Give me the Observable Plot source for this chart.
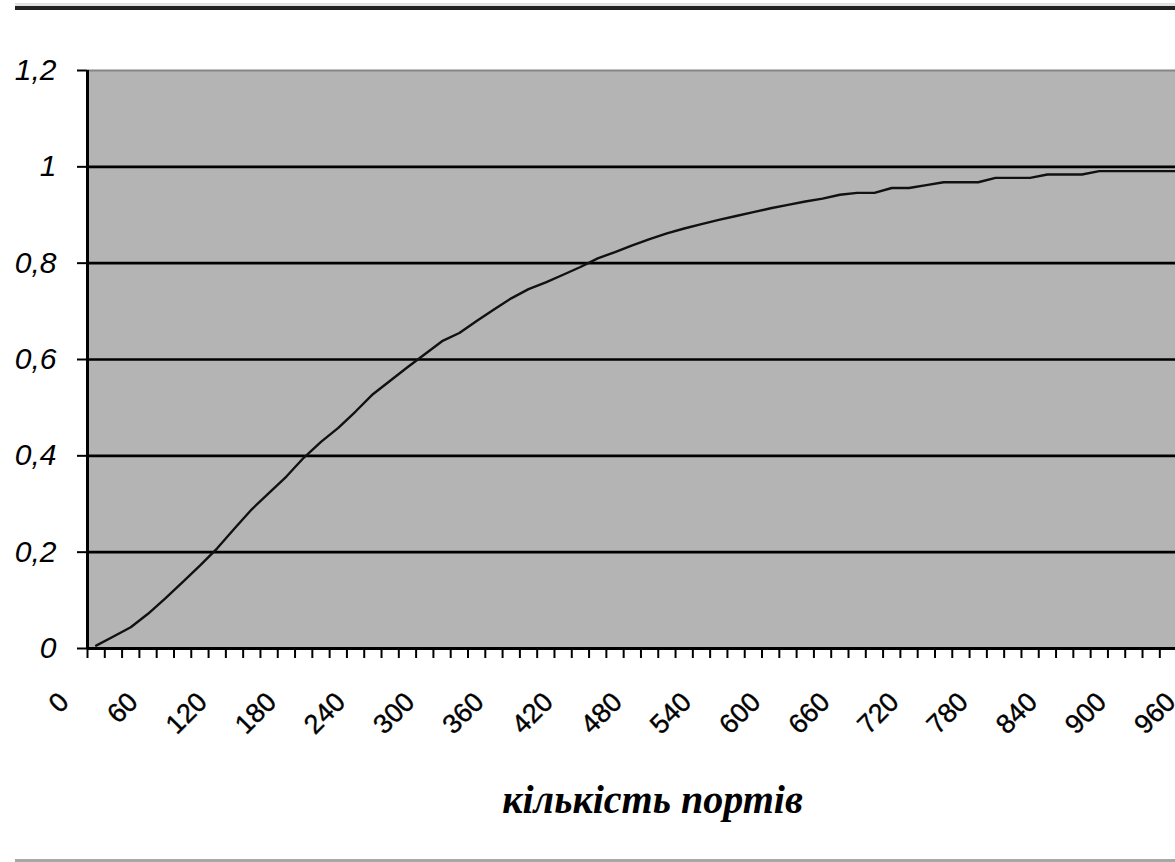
<!DOCTYPE html>
<html>
<head>
<meta charset="utf-8">
<script src="https://cdn.jsdelivr.net/npm/d3@7"></script>
<script src="https://cdn.jsdelivr.net/npm/@observablehq/plot@0.6"></script>
<style>
  html, body { margin: 0; padding: 0; background: #fff; overflow: hidden; }
  #wrap { position: relative; width: 1175px; height: 862px; overflow: hidden; }
  #wrap svg { display: block; overflow: hidden; }
  .deco { position: absolute; }
</style>
</head>
<body>
<div id="wrap">
  <div id="chart"></div>
  <div class="deco" style="left:0;top:0;width:15px;height:862px;background:#fff;"></div>
  <div class="deco" style="left:15px;top:3px;width:1160px;height:3px;background:#e2e2e2;"></div>
  <div class="deco" style="left:15px;top:6px;width:1160px;height:4px;background:#222;"></div>
  <div class="deco" style="left:15px;top:859px;width:1160px;height:3px;background:#a8a8a8;"></div>
</div>
<script>
// Categories: number of ports (one category every 15 ports)
const ports = [0, 15, 30, 45, 60, 75, 90, 105, 120, 135, 150, 165, 180, 195, 210, 225,
  240, 255, 270, 285, 300, 315, 330, 345, 360, 375, 390, 405, 420, 435, 450, 465,
  480, 495, 510, 525, 540, 555, 570, 585, 600, 615, 630, 645, 660, 675, 690, 705,
  720, 735, 750, 765, 780, 795, 810, 825, 840, 855, 870, 885, 900, 915, 930, 945];

// Series values
const values = [0.006, 0.025, 0.044, 0.072, 0.104, 0.138, 0.172, 0.208, 0.249, 0.289,
  0.323, 0.357, 0.396, 0.429, 0.458, 0.492, 0.528, 0.556, 0.584, 0.611,
  0.638, 0.655, 0.680, 0.704, 0.727, 0.746, 0.760, 0.776, 0.792, 0.810,
  0.823, 0.837, 0.850, 0.862, 0.872, 0.881, 0.890, 0.898, 0.906, 0.914,
  0.921, 0.928, 0.934, 0.942, 0.946, 0.946, 0.956, 0.956, 0.962, 0.968,
  0.968, 0.968, 0.977, 0.977, 0.977, 0.984, 0.984, 0.984, 0.991, 0.991,
  0.991, 0.991, 0.991, 0.991];

// Tick labels
const xLabels = [0, 60, 120, 180, 240, 300, 360, 420, 480, 540, 600, 660, 720, 780, 840, 900, 960];
const yTicks = [0, 0.2, 0.4, 0.6, 0.8, 1, 1.2];
const gridVals = [0.2, 0.4, 0.6, 0.8, 1];
const xTitle = "кількість портів";

const step = ports[1] - ports[0];
const bounds = ports.map(p => p - step / 2);
const table = ports.map((p, i) => ({ports: p, value: values[i]}));

const chart = Plot.plot({
  width: 1175,
  height: 862,
  marginLeft: 87,
  marginRight: 0,
  marginTop: 70,
  marginBottom: 214,
  style: {background: "transparent", fontFamily: "'Liberation Sans', Arial, sans-serif", overflow: "hidden"},
  x: {type: "linear", domain: [bounds[0], 936.1], axis: null, label: null},
  y: {domain: [0, 1.2], axis: null, label: null},
  marks: [
    Plot.frame({fill: "#b4b4b4", stroke: "none"}),
    Plot.ruleY(gridVals, {stroke: "#000", strokeWidth: 2.6}),
    Plot.ruleY([yTicks[yTicks.length - 1]], {stroke: "#858585", strokeWidth: 2}),
    Plot.line(table, {x: "ports", y: "value", stroke: "#111", strokeWidth: 2.4, clip: true}),
    Plot.ruleY([0], {stroke: "#000", strokeWidth: 3}),
    Plot.ruleX([bounds[0]], {stroke: "#000", strokeWidth: 3}),
    Plot.axisX(bounds, {tickSize: 10, tickFormat: () => "", strokeWidth: 2, stroke: "#000", label: null}),
    Plot.axisY(yTicks, {
      tickSize: 10, tickPadding: 21, strokeWidth: 2, stroke: "#000",
      tickFormat: d => String(d).replace(".", ","),
      fontSize: 30, fontStyle: "italic", fill: "#000", label: null
    }),
    Plot.text(xLabels, {
      x: d => d, frameAnchor: "bottom", text: d => String(d),
      rotate: -45, textAnchor: "end", lineAnchor: "middle",
      dx: -32, dy: 49, fontSize: 27, fill: "#000",
      stroke: "#000", strokeWidth: 0.4
    }),
    Plot.text([xTitle], {
      frameAnchor: "bottom", text: d => d, lineAnchor: "bottom",
      dx: 21, dy: 164, fontSize: 40, fontWeight: "bold", fontStyle: "italic",
      fontFamily: "'Liberation Serif', 'DejaVu Serif', serif", fill: "#000"
    })
  ]
});
document.getElementById("chart").appendChild(chart);
</script>
</body>
</html>
